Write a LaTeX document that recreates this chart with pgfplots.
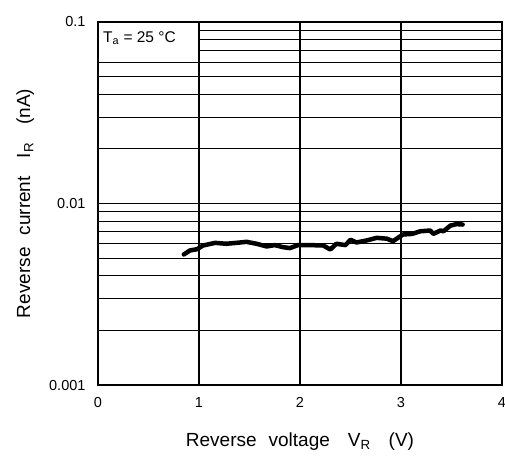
\documentclass[border=0pt]{standalone}
\usepackage{pgfplots}
\pgfplotsset{compat=1.18}
\usepackage{fontspec}
\setmainfont{Liberation Sans}

\begin{document}
\begin{tikzpicture}
\useasboundingbox (-98pt,-70pt) rectangle (407pt,385pt);
\begin{axis}[
    at={(0,0)}, anchor=south west,
    scale only axis,
    width=404pt, height=363pt,
    xmin=0, xmax=4,
    ymode=log, ymin=0.001, ymax=0.1,
    xtick={0,1,2,3,4},
    xticklabels={0,1,2,3,4},
    ytick={0.001,0.01,0.1},
    yticklabels={0.001,0.01,0.1},
    minor ytick={0.002,0.003,0.004,0.005,0.006,0.007,0.008,0.009,0.02,0.03,0.04,0.05,0.06,0.07,0.08,0.09},
    major tick length=0pt, minor tick length=0pt,
    xmajorgrids, ymajorgrids, yminorgrids,
    major grid style={black, line width=1.6pt},
    minor grid style={black, line width=0.8pt},
    axis line style={line width=2.5pt},
    /pgf/number format/assume math mode=true,
    xticklabel style={font=\fontsize{14.5}{16}\selectfont, yshift=-9pt},
    yticklabel style={font=\fontsize{14.5}{16}\selectfont, xshift=-9pt},
    label style={font=\fontsize{19}{21}\selectfont},
    xlabel={Reverse\hspace{12pt}voltage\hspace{18pt}V\textsubscript{R}\hspace{18pt}(V)},
    ylabel={Reverse\hspace{12pt}current\hspace{18pt}I\textsubscript{R}\hspace{18pt}(nA)},
    xlabel style={at={(axis description cs:0.5,0)}, anchor=base, yshift=-61pt},
    ylabel style={at={(axis description cs:-0.168,0.5)}, anchor=base},
    clip=false,
]
\addplot[black, line width=4.5pt, line join=round, line cap=round] table {
0.85 0.00524
0.91 0.00551
0.98 0.0056
1.04 0.00587
1.16 0.00607
1.27 0.00600
1.37 0.00607
1.47 0.00615
1.57 0.00600
1.67 0.00580
1.75 0.0059
1.83 0.00575
1.90 0.00568
1.98 0.0059
2.10 0.0059
2.23 0.00587
2.30 0.00558
2.36 0.006
2.45 0.0059
2.50 0.00631
2.56 0.0061
2.66 0.00626
2.76 0.00647
2.86 0.0064
2.92 0.00620
3.02 0.00675
3.11 0.0068
3.19 0.00703
3.29 0.00710
3.32 0.0068
3.39 0.0071
3.42 0.00703
3.49 0.00756
3.55 0.0077
3.61 0.00766
};
% condition box over the grid
\fill[white] (axis cs:0,0.06) rectangle (axis cs:1,0.1);
\draw[line width=0.8pt] (axis cs:0,0.06) -- (axis cs:1,0.06);
\draw[line width=1.6pt] (axis cs:1,0.06) -- (axis cs:1,0.1);
\draw[line width=2.5pt] (axis cs:0,0.06) -- (axis cs:0,0.1) -- (axis cs:1,0.1);
\node[anchor=base west, font=\fontsize{15.5}{18}\selectfont, inner sep=0pt]
  at ([shift={(5pt,-20pt)}]axis cs:0,0.1) {T\textsubscript{a} = 25 °C};
\end{axis}
\end{tikzpicture}
\end{document}
